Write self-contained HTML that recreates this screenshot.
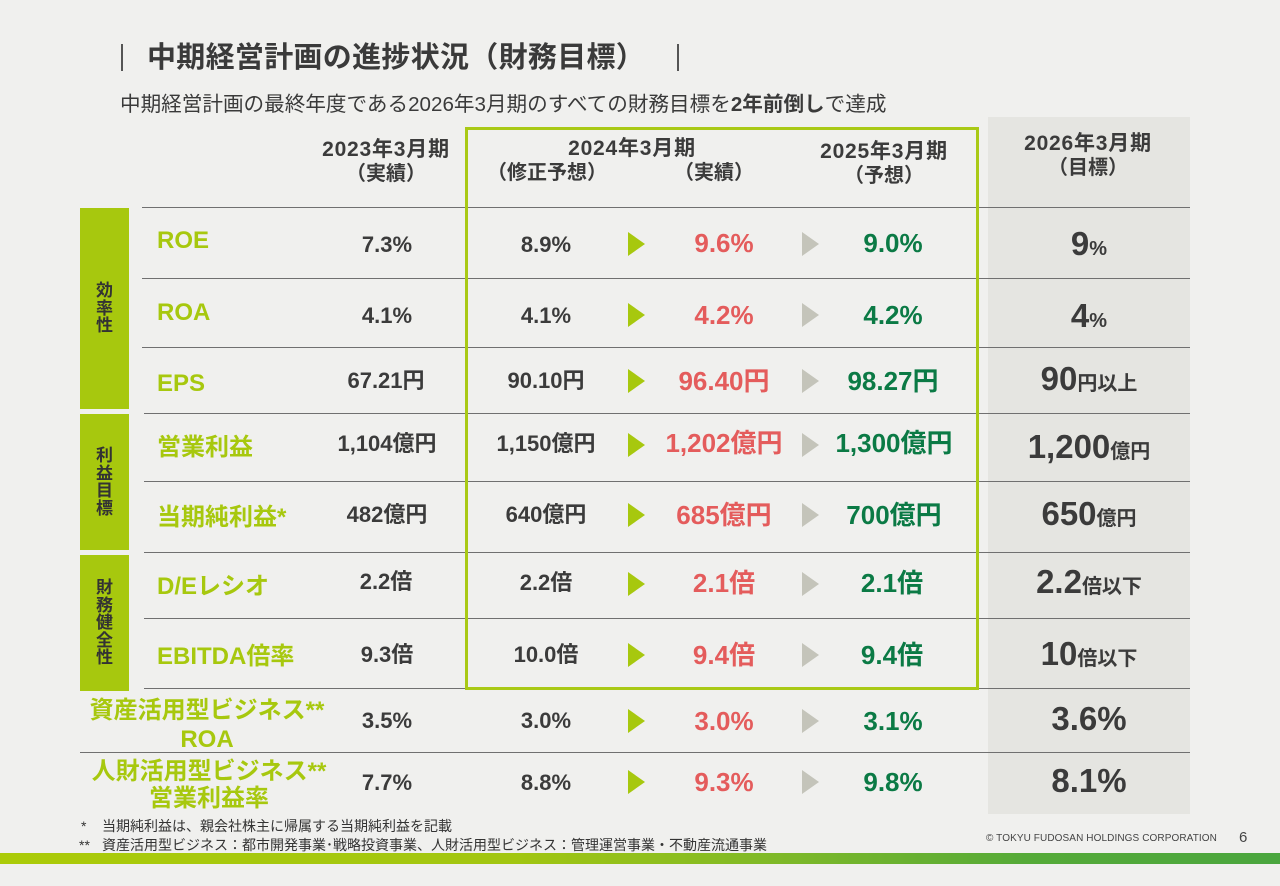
<!DOCTYPE html>
<html><head><meta charset="utf-8">
<style>
*{margin:0;padding:0;box-sizing:border-box}
body{width:1280px;height:886px;background:#f0f0ee;position:relative;overflow:hidden;font-family:"Liberation Sans","Noto Sans CJK JP",sans-serif;color:#3b3b3b}
.a{position:absolute}
.t{position:absolute;white-space:nowrap;text-align:center;font-weight:bold;height:30px;line-height:30px;width:240px}
.v{font-size:22px}
.r{font-size:26px;color:#e45c5c}
.g{font-size:26px;color:#0b7a45}
.lab{position:absolute;white-space:nowrap;font-weight:bold;font-size:24px;color:#a7c80e;height:30px;line-height:30px}
.tg{position:absolute;white-space:nowrap;text-align:center;font-weight:bold;font-size:33px;height:40px;line-height:40px;width:200px;left:989px}
.tg span{font-size:20px;line-height:1}
.hd{position:absolute;white-space:nowrap;text-align:center;font-weight:bold;font-size:21px;letter-spacing:0.8px;height:26px;line-height:26px;width:240px}
.hp{letter-spacing:0;font-size:20px}
.ln{position:absolute;height:1px;background:#707070}
.ag{position:absolute;width:0;height:0;border-left:17px solid #a7c80e;border-top:12px solid transparent;border-bottom:12px solid transparent;left:628px}
.ay{position:absolute;width:0;height:0;border-left:17px solid #c4c4ba;border-top:12px solid transparent;border-bottom:12px solid transparent;left:802px}
.cat{position:absolute;left:80px;width:49px;background:#a7c80e;display:flex;align-items:center;justify-content:center}
.cat div{font-size:17px;line-height:17.5px;font-weight:bold;color:#333;text-align:center;width:20px}
</style></head><body>

<!-- title -->
<div class="a" style="left:121px;top:44px;width:2px;height:27px;background:#555"></div>
<div class="a" style="left:147px;top:40px;font-size:29px;font-weight:bold;line-height:36px;white-space:nowrap;color:#3a3a3a;letter-spacing:0.3px">中期経営計画の進捗状況（財務目標）</div>
<div class="a" style="left:677px;top:44px;width:2px;height:27px;background:#555"></div>

<div class="a" style="left:120px;top:91px;font-size:20.6px;line-height:28px;white-space:nowrap;color:#3a3a3a">中期経営計画の最終年度である2026年3月期のすべての財務目標を<b>2年前倒し</b>で達成</div>

<!-- target column background -->
<div class="a" style="left:988px;top:117px;width:202px;height:697px;background:#e5e5e1"></div>

<!-- row lines -->
<div class="ln" style="left:142px;top:207px;width:1048px"></div>
<div class="ln" style="left:142px;top:278px;width:1048px"></div>
<div class="ln" style="left:142px;top:347px;width:1048px"></div>
<div class="ln" style="left:144px;top:413px;width:1046px"></div>
<div class="ln" style="left:144px;top:481px;width:1046px"></div>
<div class="ln" style="left:144px;top:552px;width:1046px"></div>
<div class="ln" style="left:144px;top:618px;width:1046px"></div>
<div class="ln" style="left:144px;top:688px;width:1046px"></div>
<div class="ln" style="left:80px;top:752px;width:1110px"></div>

<!-- green box -->
<div class="a" style="left:465px;top:127px;width:514px;height:563px;border:3px solid #a9c915"></div>

<!-- headers -->
<div class="hd" style="left:266px;top:137px">2023年3月期</div>
<div class="hd hp" style="left:266px;top:161px">（実績）</div>
<div class="hd" style="left:512px;top:136px">2024年3月期</div>
<div class="hd hp" style="left:427px;top:160px">（修正予想）</div>
<div class="hd hp" style="left:594px;top:160px">（実績）</div>
<div class="hd" style="left:764px;top:139px">2025年3月期</div>
<div class="hd hp" style="left:764px;top:163px">（予想）</div>
<div class="hd" style="left:968px;top:131px">2026年3月期</div>
<div class="hd hp" style="left:968px;top:155px">（目標）</div>

<!-- category bars -->
<div class="cat" style="top:208px;height:201px"><div>効<br>率<br>性</div></div>
<div class="cat" style="top:414px;height:136px"><div>利<br>益<br>目<br>標</div></div>
<div class="cat" style="top:555px;height:136px"><div>財<br>務<br>健<br>全<br>性</div></div>

<!-- row labels -->
<div class="lab" style="left:157px;top:226px">ROE</div>
<div class="lab" style="left:157px;top:298px">ROA</div>
<div class="lab" style="left:157px;top:369px">EPS</div>
<div class="lab" style="left:157px;top:433px">営業利益</div>
<div class="lab" style="left:157px;top:503px">当期純利益*</div>
<div class="lab" style="left:157px;top:572px">D/Eレシオ</div>
<div class="lab" style="left:157px;top:642px">EBITDA倍率</div>
<div class="lab" style="left:87px;top:696px;width:240px;text-align:center">資産活用型ビジネス**</div>
<div class="lab" style="left:87px;top:725px;width:240px;text-align:center">ROA</div>
<div class="lab" style="left:89px;top:757px;width:240px;text-align:center">人財活用型ビジネス**</div>
<div class="lab" style="left:89px;top:784px;width:240px;text-align:center">営業利益率</div>

<!-- 2023 column -->
<div class="t v" style="left:267px;top:230px">7.3%</div>
<div class="t v" style="left:267px;top:301px">4.1%</div>
<div class="t v" style="left:266px;top:366px">67.21円</div>
<div class="t v" style="left:267px;top:429px">1,104億円</div>
<div class="t v" style="left:267px;top:500px">482億円</div>
<div class="t v" style="left:266px;top:567px">2.2倍</div>
<div class="t v" style="left:267px;top:640px">9.3倍</div>
<div class="t v" style="left:267px;top:706px">3.5%</div>
<div class="t v" style="left:267px;top:768px">7.7%</div>

<!-- 2024 revised forecast -->
<div class="t v" style="left:426px;top:230px">8.9%</div>
<div class="t v" style="left:426px;top:301px">4.1%</div>
<div class="t v" style="left:426px;top:366px">90.10円</div>
<div class="t v" style="left:426px;top:429px">1,150億円</div>
<div class="t v" style="left:426px;top:500px">640億円</div>
<div class="t v" style="left:426px;top:568px">2.2倍</div>
<div class="t v" style="left:426px;top:640px">10.0倍</div>
<div class="t v" style="left:426px;top:706px">3.0%</div>
<div class="t v" style="left:426px;top:768px">8.8%</div>

<!-- arrows -->
<div class="ag" style="top:232px"></div><div class="ay" style="top:232px"></div>
<div class="ag" style="top:303px"></div><div class="ay" style="top:303px"></div>
<div class="ag" style="top:369px"></div><div class="ay" style="top:369px"></div>
<div class="ag" style="top:433px"></div><div class="ay" style="top:433px"></div>
<div class="ag" style="top:503px"></div><div class="ay" style="top:503px"></div>
<div class="ag" style="top:572px"></div><div class="ay" style="top:572px"></div>
<div class="ag" style="top:643px"></div><div class="ay" style="top:643px"></div>
<div class="ag" style="top:709px"></div><div class="ay" style="top:709px"></div>
<div class="ag" style="top:770px"></div><div class="ay" style="top:770px"></div>

<!-- 2024 actual (red) -->
<div class="t r" style="left:604px;top:228px">9.6%</div>
<div class="t r" style="left:604px;top:300px">4.2%</div>
<div class="t r" style="left:604px;top:366px">96.40円</div>
<div class="t r" style="left:604px;top:428px">1,202億円</div>
<div class="t r" style="left:604px;top:500px">685億円</div>
<div class="t r" style="left:604px;top:568px">2.1倍</div>
<div class="t r" style="left:604px;top:640px">9.4倍</div>
<div class="t r" style="left:604px;top:706px">3.0%</div>
<div class="t r" style="left:604px;top:767px">9.3%</div>

<!-- 2025 forecast (green) -->
<div class="t g" style="left:773px;top:228px">9.0%</div>
<div class="t g" style="left:773px;top:300px">4.2%</div>
<div class="t g" style="left:773px;top:366px">98.27円</div>
<div class="t g" style="left:774px;top:428px">1,300億円</div>
<div class="t g" style="left:774px;top:500px">700億円</div>
<div class="t g" style="left:772px;top:568px">2.1倍</div>
<div class="t g" style="left:772px;top:640px">9.4倍</div>
<div class="t g" style="left:773px;top:706px">3.1%</div>
<div class="t g" style="left:773px;top:767px">9.8%</div>

<!-- targets -->
<div class="tg" style="top:224px">9<span>%</span></div>
<div class="tg" style="top:296px">4<span>%</span></div>
<div class="tg" style="top:359px">90<span>円以上</span></div>
<div class="tg" style="top:427px">1,200<span>億円</span></div>
<div class="tg" style="top:494px">650<span>億円</span></div>
<div class="tg" style="top:562px">2.2<span>倍以下</span></div>
<div class="tg" style="top:634px">10<span>倍以下</span></div>
<div class="tg" style="top:699px">3.6%</div>
<div class="tg" style="top:761px">8.1%</div>

<!-- footnotes -->
<div class="a" style="left:81px;top:817px;font-size:14px;line-height:18px;color:#333">*</div>
<div class="a" style="left:102px;top:817px;font-size:14px;line-height:18px;white-space:nowrap;color:#333">当期純利益は、親会社株主に帰属する当期純利益を記載</div>
<div class="a" style="left:79px;top:836px;font-size:14px;line-height:18px;color:#333">**</div>
<div class="a" style="left:102px;top:836px;font-size:14px;line-height:18px;white-space:nowrap;color:#333">資産活用型ビジネス：都市開発事業･戦略投資事業、人財活用型ビジネス：管理運営事業・不動産流通事業</div>

<div class="a" style="left:986px;top:832px;font-size:10px;line-height:14px;white-space:nowrap;color:#444;letter-spacing:0.1px">© TOKYU FUDOSAN HOLDINGS CORPORATION</div>
<div class="a" style="left:1239px;top:829px;font-size:15px;line-height:18px;color:#444">6</div>

<!-- bottom bar -->
<div class="a" style="left:0;top:853px;width:1280px;height:11px;background:linear-gradient(to right,#abcb08 0%,#a2c611 40%,#7cb829 62%,#55aa38 80%,#4aa63e 100%)"></div>

</body></html>
